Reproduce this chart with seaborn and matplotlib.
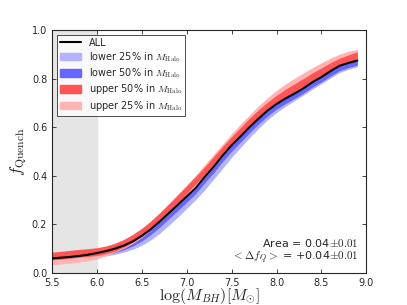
import numpy as np
import pandas as pd
import seaborn as sns
import matplotlib.pyplot as plt
from matplotlib.patches import Patch
from matplotlib.lines import Line2D

# log(M_BH) grid
mbh = [5.5, 5.6, 5.7, 5.8, 5.9, 6.0, 6.1, 6.2, 6.3, 6.4, 6.5, 6.6, 6.7, 6.8, 6.9,
       7.0, 7.1, 7.2, 7.3, 7.4, 7.5, 7.6, 7.7, 7.8, 7.9, 8.0, 8.1, 8.2, 8.3, 8.4,
       8.5, 8.6, 8.7, 8.8, 8.9]

f_all = [0.060, 0.063, 0.066, 0.070, 0.075, 0.082, 0.090, 0.100, 0.113, 0.130,
         0.153, 0.180, 0.212, 0.246, 0.280, 0.315, 0.350, 0.395, 0.437, 0.483,
         0.525, 0.562, 0.600, 0.635, 0.668, 0.695, 0.718, 0.738, 0.760, 0.785,
         0.806, 0.830, 0.852, 0.864, 0.874]

f_low25 = [0.058, 0.061, 0.065, 0.069, 0.074, 0.080, 0.086, 0.093, 0.102, 0.114,
           0.130, 0.152, 0.180, 0.212, 0.246, 0.282, 0.318, 0.358, 0.402, 0.447,
           0.492, 0.533, 0.573, 0.611, 0.646, 0.676, 0.702, 0.725, 0.748, 0.772,
           0.795, 0.818, 0.840, 0.854, 0.864]

f_low50 = [0.058, 0.061, 0.064, 0.068, 0.073, 0.079, 0.086, 0.095, 0.107, 0.122,
           0.143, 0.169, 0.200, 0.234, 0.268, 0.303, 0.338, 0.382, 0.424, 0.470,
           0.512, 0.550, 0.588, 0.624, 0.657, 0.685, 0.708, 0.729, 0.751, 0.776,
           0.797, 0.821, 0.843, 0.856, 0.866]

f_up50 = [0.070, 0.073, 0.077, 0.081, 0.084, 0.088, 0.095, 0.106, 0.122, 0.143,
          0.168, 0.198, 0.232, 0.268, 0.305, 0.343, 0.381, 0.421, 0.463, 0.505,
          0.545, 0.583, 0.621, 0.656, 0.687, 0.715, 0.740, 0.762, 0.784, 0.807,
          0.828, 0.849, 0.867, 0.881, 0.894]

f_up25 = [0.052, 0.055, 0.059, 0.063, 0.068, 0.076, 0.090, 0.104, 0.120, 0.140,
          0.165, 0.195, 0.230, 0.268, 0.306, 0.345, 0.385, 0.427, 0.470, 0.513,
          0.555, 0.595, 0.633, 0.670, 0.703, 0.733, 0.760, 0.783, 0.805, 0.827,
          0.847, 0.866, 0.882, 0.894, 0.902]

# half-widths of the shaded bands
err_low25 = 0.016
err_low50 = 0.011
err_up50 = 0.016
err_up25 = 0.018

sns.set_style("ticks")
plt.rcParams['mathtext.fontset'] = 'cm'
plt.rcParams['xtick.direction'] = 'in'
plt.rcParams['ytick.direction'] = 'in'

fig = plt.figure(figsize=(4.07, 3.05), dpi=100)
ax = fig.add_axes([0.128, 0.105, 0.772, 0.797])

ax.axvspan(5.5, 6.0, color='#e5e5e5', zorder=0)

x = np.array(mbh)
bands = [(f_low25, err_low25, '#b3b3ff', 'lower 25% in $M_{\\rm Halo}$'),
         (f_low50, err_low50, '#6666ff', 'lower 50% in $M_{\\rm Halo}$'),
         (f_up25, err_up25, '#ffb3b3', 'upper 25% in $M_{\\rm Halo}$'),
         (f_up50, err_up50, '#ff5555', 'upper 50% in $M_{\\rm Halo}$')]
for vals, err, col, lab in bands:
    v = np.array(vals)
    ax.fill_between(x, v - err, v + err, color=col, lw=0, zorder=2)

df = pd.DataFrame({'mbh': mbh, 'f': f_all})
sns.lineplot(data=df, x='mbh', y='f', color='black', lw=1.5, ax=ax, zorder=3)

ax.set_xlim(5.5, 9.0)
ax.set_ylim(0, 1.0)
ax.set_xticks([5.5, 6.0, 6.5, 7.0, 7.5, 8.0, 8.5, 9.0])
ax.set_yticks([0.0, 0.2, 0.4, 0.6, 0.8, 1.0])
ax.tick_params(labelsize=7, top=True, right=True, length=3, width=0.6)
for s in ax.spines.values():
    s.set_linewidth(0.8)

ax.set_xlabel(r'$\log(M_{BH})[M_{\odot}]$', fontsize=11.5, labelpad=-1)
ax.set_ylabel(r'$f_{\rm Quench}$', fontsize=12, labelpad=2)

handles = [Line2D([], [], color='black', lw=1.5, label='ALL'),
           Patch(color='#b3b3ff', label=bands[0][3]),
           Patch(color='#6666ff', label=bands[1][3]),
           Patch(color='#ff5555', label=bands[3][3]),
           Patch(color='#ffb3b3', label=bands[2][3])]
leg = ax.legend(handles=handles, loc='upper left', fontsize=7, frameon=True,
                fancybox=False, edgecolor='black', borderpad=0.3,
                labelspacing=0.25, handlelength=2.2, handleheight=0.8,
                bbox_to_anchor=(0.0, 1.0))
leg.get_frame().set_linewidth(0.6)

ax.text(0.975, 0.122, r'Area = 0.04$\pm0.01$', transform=ax.transAxes,
        ha='right', va='center', fontsize=8)
ax.text(0.975, 0.062, r'$<\Delta f_Q>$ = +0.04$\pm0.01$', transform=ax.transAxes,
        ha='right', va='center', fontsize=8)

fig.savefig('out.png', dpi=100)
